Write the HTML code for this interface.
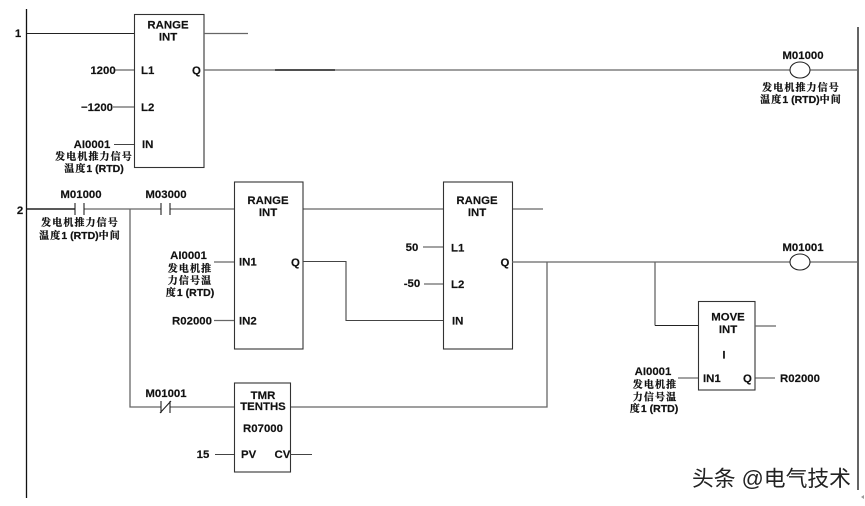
<!DOCTYPE html>
<html lang="zh">
<head>
<meta charset="utf-8">
<style>
html,body{margin:0;padding:0;background:#fff;width:865px;height:506px;overflow:hidden}
svg{display:block;filter:blur(.3px)}
text{font-family:"Liberation Sans","Noto Sans CJK SC",sans-serif;font-weight:bold;font-size:11.4px;fill:#111;text-anchor:middle;stroke:#111;stroke-width:.15}
.c{font-family:"Liberation Sans","Noto Serif CJK SC",serif;font-size:10px;letter-spacing:1.1px;stroke-width:.25}
.c tspan{letter-spacing:0;font-size:10.5px}
.l{text-anchor:start}
.g{stroke:#666;stroke-width:1.3;fill:none}
.k{stroke:#222;stroke-width:1.1;fill:none}
.b{stroke:#333;stroke-width:1.1;fill:#fff}
.wm{font-family:"Liberation Sans","Noto Sans CJK SC",sans-serif;font-weight:normal;font-size:21.8px;fill:#222;stroke:none;text-anchor:start}
</style>
</head>
<body>
<svg width="865" height="506" viewBox="0 0 865 506" xmlns="http://www.w3.org/2000/svg">
<!-- rails -->
<path class="k" style="stroke-width:1.3;stroke:#111" d="M26.5 9V498M858 27V490"/>
<!-- rung 1 -->
<path class="k" d="M27 33.500H134"/>
<rect class="b" x="134.500" y="14.500" width="69.500" height="153"/>
<path class="g" d="M204 33.500H248M204 70H790M810 70H858"/>
<path class="k" style="stroke-width:1.4;stroke:#222" d="M275 70H335"/>
<path class="g" d="M115 70H134M113 107H134"/>
<path class="k" style="stroke:#444" d="M114 144.500H134"/>
<ellipse class="k" cx="800" cy="70" rx="10" ry="8"/>
<!-- rung 2 -->
<path class="k" style="stroke-width:1.5" d="M27 209H75"/>
<path class="g" d="M84 209H161M170 209H234M303 209H444M512 209H543"/>
<path class="k" d="M75 203V215M84 203V215M161 203V215M170 203V215"/>
<rect class="b" x="234.500" y="182" width="68.500" height="167"/>
<rect class="b" x="443.500" y="182" width="69" height="167"/>
<path class="g" d="M214 262H234M214 320.500H234"/>
<path class="k" style="stroke:#444" d="M303 261.500H346V320.500H443M423 247H443M424 284H443"/>
<path class="g" d="M512 262H790M810 262H858M547 262V407H290M655 262V325.500"/>
<path class="k" d="M655 325.500H698"/>
<ellipse class="k" cx="800" cy="262" rx="10" ry="8"/>
<!-- move block -->
<rect class="b" x="698.500" y="301.500" width="56.500" height="88.500"/>
<path class="g" d="M755 326H776"/>
<path class="k" style="stroke:#444" d="M678 378H698M755 378H775"/>
<!-- timer branch -->
<path class="g" d="M130 209V407H161M170 407H234"/>
<path class="k" d="M161 401V413M170 401V413M160 413L171 401"/>
<rect class="b" x="234.500" y="383" width="56" height="89"/>
<path class="k" style="stroke:#444" d="M215 454.500H234M290 454.500H312"/>

<!-- rung numbers -->
<text x="18" y="37">1</text>
<text x="20" y="214">2</text>

<!-- block 1 -->
<text x="168" y="28.500">RANGE</text>
<text x="168" y="40.500">INT</text>
<text x="103" y="74">1200</text>
<text x="97" y="111">−1200</text>
<text x="92" y="148">AI0001</text>
<text class="c" x="94" y="160">发电机推力信号</text>
<text x="94" y="172" class="c">温度<tspan>1 (RTD)</tspan></text>
<text class="l" x="141" y="74">L1</text>
<text class="l" x="141" y="111">L2</text>
<text class="l" x="142" y="148">IN</text>
<text class="l" x="192" y="74">Q</text>
<text x="803" y="59">M01000</text>
<text class="c" x="801" y="91">发电机推力信号</text>
<text class="c" x="801" y="103">温度<tspan>1 (RTD)</tspan>中间</text>

<!-- contacts -->
<text x="81" y="198">M01000</text>
<text x="166" y="198">M03000</text>
<text class="c" x="80" y="226">发电机推力信号</text>
<text class="c" x="80" y="239">温度<tspan>1 (RTD)</tspan>中间</text>

<!-- block 2 -->
<text x="268" y="204">RANGE</text>
<text x="268" y="216">INT</text>
<text class="l" x="239" y="265.500">IN1</text>
<text class="l" x="239" y="324.500">IN2</text>
<text class="l" x="291" y="266">Q</text>
<text x="188.500" y="259">AI0001</text>
<text class="c" x="190" y="272">发电机推</text>
<text class="c" x="190" y="284">力信号温</text>
<text class="c" x="190" y="296">度<tspan>1 (RTD)</tspan></text>
<text x="192" y="324.500">R02000</text>

<!-- block 3 -->
<text x="477" y="204">RANGE</text>
<text x="477" y="216">INT</text>
<text x="412" y="251">50</text>
<text x="412" y="287">-50</text>
<text class="l" x="451" y="251.500">L1</text>
<text class="l" x="451" y="288">L2</text>
<text class="l" x="452" y="324.500">IN</text>
<text class="l" x="500.500" y="266">Q</text>
<text x="803" y="251">M01001</text>

<!-- move -->
<text x="728" y="320.500">MOVE</text>
<text x="728" y="333">INT</text>
<text x="724" y="358.500">I</text>
<text class="l" x="703" y="382">IN1</text>
<text class="l" x="743" y="382">Q</text>
<text x="653" y="375">AI0001</text>
<text class="c" x="655" y="388">发电机推</text>
<text class="c" x="655" y="400.500">力信号温</text>
<text class="c" x="654" y="412">度<tspan>1 (RTD)</tspan></text>
<text x="800" y="382">R02000</text>

<!-- timer -->
<text x="166" y="397">M01001</text>
<text x="263" y="399">TMR</text>
<text x="263" y="410">TENTHS</text>
<text x="263" y="432">R07000</text>
<text x="203" y="458">15</text>
<text class="l" x="241" y="458">PV</text>
<text class="l" x="274.500" y="458">CV</text>

<!-- watermark -->
<text class="wm" x="692" y="486">头条 @电气技术</text>
<path d="M861 497l3-2v4z" fill="#999"/>
</svg>
</body>
</html>
